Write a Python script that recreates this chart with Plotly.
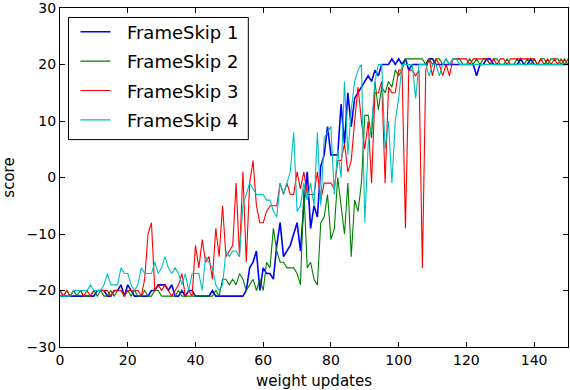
import plotly.graph_objects as go

x_values = list(range(0, 151))

frameskip1 = [
    -21, -21, -21, -21, -21, -21, -21, -21, -21, -21,   # 0-9
    -21, -20, -20, -20, -21, -21, -20, -20, -19, -21,   # 10-19
    -19, -20, -21, -21, -21, -21, -21, -20, -20, -19,   # 20-29
    -19, -19, -20, -19, -21, -21, -20, -21, -20, -20,   # 30-39
    -21, -21, -21, -21, -21, -20, -21, -21, -21, -21,   # 40-49
    -21, -21, -21, -21, -21, -20, -16, -15, -13, -20,   # 50-59
    -16, -17, -17, -18, -12, -8, -14, -13, -12, -10,    # 60-69
    -8, -13, -5, 1, -9, -5, -7, 2, 4, 9,                # 70-79
    4, 4, 4, 13, 6, 15, 9, 14, 15, 16,                  # 80-89
    17, 18, 17, 19, 18, 20, 20, 20, 21, 20,             # 90-99
    21, 20, 21, 19, 20, 20, 20, 20, 20, 21,             # 100-109
    21, 20, 20, 20, 20, 20, 20, 20, 20, 20,             # 110-119
    20, 20, 20, 18, 20, 20, 21, 21, 20, 20,             # 120-129
    20, 20, 20, 20, 20, 20, 21, 20, 20, 21,             # 130-139
    20, 20, 20, 20, 20, 20, 20, 20, 20, 20, 20,         # 140-150
]

frameskip2 = [
    -20, -21, -20, -21, -20, -21, -20, -21, -21, -21,   # 0-9
    -20, -21, -20, -21, -21, -20, -21, -20, -20, -21,   # 10-19
    -20, -21, -20, -21, -21, -20, -21, -21, -20, -20,   # 20-29
    -21, -21, -21, -21, -21, -20, -21, -21, -21, -21,   # 30-39
    -21, -21, -21, -21, -21, -21, -20, -21, -18, -18,   # 40-49
    -19, -18, -19, -17, -18, -20, -19, -18, -20, -18,   # 50-59
    -20, -15, -16, -9, -13, -15, -15, -16, -16, -16,    # 60-69
    -17, -19, -2, -16, -15, -18, -19, -8, -7, -3,       # 70-79
    -11, -9, 0, -5, -10, -1, -14, -4, -6, -1,           # 80-89
    11, 11, 7, 17, 12, 16, 15, 17, 16, 19,              # 90-99
    18, 19, 21, 21, 21, 21, 21, 21, 20, 21,             # 100-109
    20, 21, 21, 20, 21, 20, 21, 21, 21, 20,             # 110-119
    20, 21, 20, 21, 20, 21, 21, 20, 21, 21,             # 120-129
    20, 20, 21, 20, 20, 21, 20, 20, 21, 20,             # 130-139
    21, 20, 21, 21, 20, 21, 21, 21, 20, 21, 20,         # 140-150
]

frameskip3 = [
    -20, -21, -20, -21, -20, -20, -20, -21, -20, -21,   # 0-9
    -20, -20, -20, -20, -20, -21, -20, -20, -20, -21,   # 10-19
    -20, -20, -20, -20, -21, -18, -10, -8, -20, -19,    # 20-29
    -20, -19, -20, -21, -20, -19, -17, -21, -20, -21,   # 30-39
    -12, -16, -11, -15, -14, -18, -9, -14, -5, -14,     # 40-49
    -13, -12, -1, -14, 1, -15, -1, 3, -5, -8,           # 50-59
    -8, -6, -5, -5, -5, -1, -3, -1, -3, -3,             # 60-69
    1, -2, 1, -3, -3, -3, 1, -4, -1, -1,                # 70-79
    -1, -2, 3, 3, 6, 1, 3, 10, 16, 10,                  # 80-89
    5, 10, -1, 15, 15, 17, -1, 16, 15, 15,              # 90-99
    19, 19, -9, 19, 19, 18, 19, -16, 19, 21,            # 100-109
    18, 21, 20, 18, 20, 18, 21, 21, 21, 21,             # 110-119
    21, 20, 21, 21, 21, 21, 21, 20, 21, 20,             # 120-129
    21, 21, 20, 21, 21, 21, 21, 21, 21, 21,             # 130-139
    21, 20, 21, 20, 21, 20, 21, 20, 21, 20, 21,         # 140-150
]

frameskip4 = [
    -21, -21, -21, -21, -20, -20, -20, -20, -20, -19,   # 0-9
    -20, -20, -20, -19, -17, -19, -19, -19, -16, -17,   # 10-19
    -17, -19, -20, -19, -16, -17, -17, -17, -15, -17,   # 20-29
    -16, -14, -16, -17, -16, -17, -19, -17, -20, -17,   # 30-39
    -17, -17, -20, -14, -15, -16, -19, -20, -19, -13,   # 40-49
    -14, -13, -13, -14, -5, -3, -1, -2, -3, -3,         # 50-59
    -3, -4, -4, -6, -7, -1, -3, -1, 1, 8,               # 60-69
    -6, -5, -1, -4, -1, -5, 8, -5, 7, 8,                # 70-79
    9, -3, 5, 0, 17, 4, 12, 17, 19, 20,                 # 80-89
    -8, 6, 9, 17, 20, 20, 5, 10, -1, 10,                # 90-99
    14, 20, 20, 20, 20, 14, 20, 20, 20, 18,             # 100-109
    20, 20, 18, 20, 21, 20, 21, 21, 20, 20,             # 110-119
    20, 20, 20, 20, 20, 20, 20, 20, 20, 20,             # 120-129
    20, 20, 20, 20, 20, 20, 20, 20, 20, 20,             # 130-139
    20, 20, 20, 20, 20, 20, 20, 20, 20, 20, 20,         # 140-150
]

series_names = ["FrameSkip 1", "FrameSkip 2", "FrameSkip 3", "FrameSkip 4"]
series_values = [frameskip1, frameskip2, frameskip3, frameskip4]
series_colors = ["#0000ff", "#008000", "#ff0000", "#00bfbf"]
series_widths = [1.6, 1.1, 1.1, 1.1]

x_ticks = [0, 20, 40, 60, 80, 100, 120, 140]
y_ticks = [-30, -20, -10, 0, 10, 20, 30]

FONT = "DejaVu Sans"
NBSP = "\u00a0"

fig = go.Figure()
for i, (name, vals, col, w) in enumerate(zip(series_names, series_values, series_colors, series_widths)):
    fig.add_trace(go.Scatter(
        x=x_values, y=vals, mode="lines", name=NBSP * 2 + name,
        line=dict(color=col, width=w),
        legendgroup=f"g{i}",
    ))

axis_common = dict(
    showline=True, linecolor="black", linewidth=1.2, mirror="allticks",
    ticks="inside", ticklen=5, tickwidth=1, tickcolor="black",
    showgrid=False, zeroline=False, automargin=False,
    ticklabeloverflow="allow",
    tickfont=dict(family=FONT, size=14, color="black"),
)

# plot area in pixels: left 59.5, right 568, top 7.5, bottom 347.5
L, R, T, B = 59.5, 568.0, 7.5, 347.5
def px_to_paper_x(px):
    return (px - L) / (R - L)
def px_to_paper_y(py):
    return 1 - (py - T) / (B - T)

fig.update_layout(
    width=570, height=390,
    margin=dict(l=L, r=570 - R, t=T, b=390 - B),
    paper_bgcolor="white", plot_bgcolor="white",
    font=dict(family=FONT, color="black"),
    xaxis=dict(range=[0, 150], tickvals=x_ticks,
               title=dict(text="weight updates", font=dict(family=FONT, size=15)),
               **axis_common),
    yaxis=dict(range=[-30, 30], tickvals=y_ticks,
               title=dict(text="score", font=dict(family=FONT, size=15)),
               **axis_common),
    legend=dict(
        x=px_to_paper_x(75), y=px_to_paper_y(13), xanchor="left", yanchor="top",
        bgcolor="rgba(0,0,0,0)", borderwidth=0,
        font=dict(family=FONT, size=18, color="black"),
        tracegroupgap=3,
    ),
    shapes=[dict(
        type="rect", xref="paper", yref="paper", layer="above",
        x0=px_to_paper_x(68), x1=px_to_paper_x(248),
        y0=px_to_paper_y(139.5), y1=px_to_paper_y(17),
        line=dict(color="black", width=1), fillcolor="white",
    )],
    showlegend=True,
)

fig.write_html("out.html", config={"displayModeBar": False},
               post_script="document.body.style.margin='0';")
